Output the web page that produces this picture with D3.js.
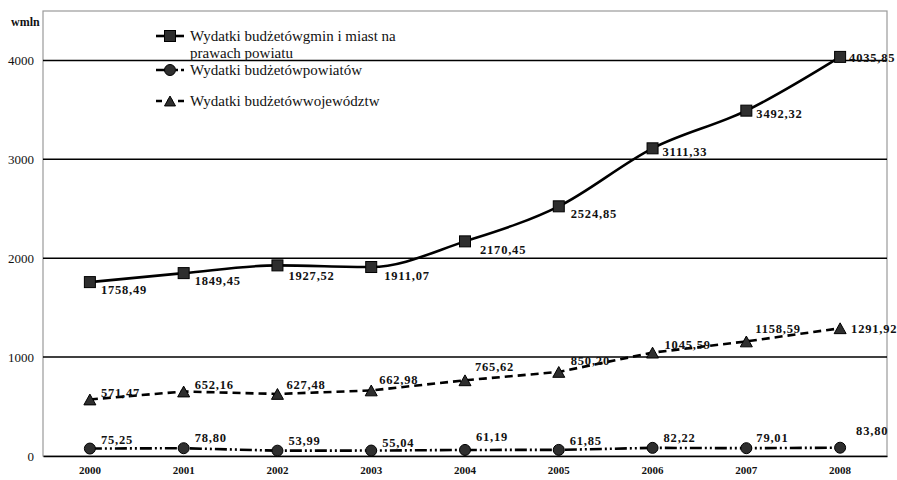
<!DOCTYPE html>
<html>
<head>
<meta charset="utf-8">
<script src="https://cdn.jsdelivr.net/npm/d3@7"></script>
<style>
  html, body { margin: 0; padding: 0; background: #fff; }
</style>
</head>
<body>
<svg id="chart" width="897" height="480"></svg>
<script>
// Years on the category axis
const years = ["2000", "2001", "2002", "2003", "2004", "2005", "2006", "2007", "2008"];

// Budget expenditures, mln zł
const gminValues = [1758.49, 1849.45, 1927.52, 1911.07, 2170.45, 2524.85, 3111.33, 3492.32, 4035.85];
const powiatowValues = [75.25, 78.80, 53.99, 55.04, 61.19, 61.85, 82.22, 79.01, 83.80];
const wojewodztwValues = [571.47, 652.16, 627.48, 662.98, 765.62, 850.20, 1045.59, 1158.59, 1291.92];

const yTicks = [0, 1000, 2000, 3000, 4000];

const seriesNames = [
  ["Wydatki budżetówgmin i miast na", "prawach powiatu"],
  ["Wydatki budżetówpowiatów"],
  ["Wydatki budżetówwojewództw"]
];

// Label offsets relative to each marker (layout only)
const gminLabelOffsets = [[11, 8], [11, 8], [11, 11], [13, 9], [15, 9], [12, 8], [10, 4], [10, 3], [9, 1]];
const wojLabelOffsets = [[11, -6], [11, -7], [9, -9], [8, -10], [10, -13], [12, -11], [12, -8], [9, -12], [11, 1]];
const powLabelOffsets = [[11, -9], [11, -10], [11, -10], [11, -8], [11, -13], [11, -9], [11, -10], [10, -10], [16, -17]];

const FONT = "'Liberation Serif', 'Tinos', 'Times New Roman', serif";

const svg = d3.select("#chart");
const margin = { left: 43, right: 10, top: 11, bottom: 24 };
const W = 897, H = 480;
const plotW = W - margin.left - margin.right;
const plotH = H - margin.top - margin.bottom;

const x = d3.scaleBand().domain(years).range([0, plotW]);
const y = d3.scaleLinear().domain([0, 4500]).range([plotH, 0]);
const cx = d => x(d) + x.bandwidth() / 2;

const g = svg.append("g").attr("transform", `translate(${margin.left},${margin.top})`);

// Plot frame
g.append("rect")
  .attr("x", 0).attr("y", 0).attr("width", plotW).attr("height", plotH)
  .attr("fill", "none").attr("stroke", "#9a9a9a").attr("stroke-width", 1.2);

// Horizontal grid lines
g.selectAll(".grid").data(yTicks.filter(t => t > 0)).join("line")
  .attr("x1", 0).attr("x2", plotW)
  .attr("y1", d => y(d)).attr("y2", d => y(d))
  .attr("stroke", "#000").attr("stroke-width", 1.5);

// Y axis labels
const yAxis = d3.axisLeft(y).tickValues(yTicks).tickSize(0).tickPadding(9).tickFormat(d3.format("d"));
const yg = g.append("g").call(yAxis);
yg.select(".domain").remove();
yg.selectAll("text").style("font-family", FONT).style("font-size", "13px").attr("fill", "#111");

// X axis
const xAxis = d3.axisBottom(x).tickSize(0).tickPadding(10);
const xg = g.append("g").attr("transform", `translate(0,${plotH})`).call(xAxis);
xg.select(".domain").attr("stroke", "#000").attr("stroke-width", 1.5);
xg.selectAll("text").style("font-family", FONT).style("font-size", "11px")
  .style("font-weight", "bold").attr("fill", "#111");

// Unit label
svg.append("text").attr("x", 11).attr("y", 26)
  .style("font-family", FONT).style("font-size", "12px").style("font-weight", "bold")
  .attr("fill", "#111")
  .text("wmln");

const markerFill = "#2e2e2e";
const fmt = v => d3.format(".2f")(v).replace(".", ",");

function drawMarker(sel, type, size) {
  if (type === "square") {
    sel.append("rect").attr("x", -size / 2).attr("y", -size / 2).attr("width", size).attr("height", size)
      .attr("fill", markerFill).attr("stroke", "#000").attr("stroke-width", 1);
  } else if (type === "circle") {
    sel.append("circle").attr("r", size / 2)
      .attr("fill", markerFill).attr("stroke", "#000").attr("stroke-width", 1);
  } else {
    const h = size * 0.9;
    sel.append("path").attr("d", `M0,${-h / 2}L${size / 2},${h / 2}L${-size / 2},${h / 2}Z`)
      .attr("fill", markerFill).attr("stroke", "#000").attr("stroke-width", 1);
  }
}

const series = [
  { values: gminValues, curve: d3.curveMonotoneX, dash: null, marker: "square", size: 11, offsets: gminLabelOffsets },
  { values: powiatowValues, curve: d3.curveLinear, dash: "12,3,2,3,2,3", marker: "circle", size: 11, offsets: powLabelOffsets },
  { values: wojewodztwValues, curve: d3.curveLinear, dash: "8,5", marker: "triangle", size: 12, offsets: wojLabelOffsets }
];

series.forEach(s => {
  const pts = years.map((yr, i) => [cx(yr), y(s.values[i])]);
  g.append("path")
    .attr("d", d3.line().curve(s.curve)(pts))
    .attr("fill", "none").attr("stroke", "#000").attr("stroke-width", 2.6)
    .attr("stroke-dasharray", s.dash);
  years.forEach((yr, i) => {
    const m = g.append("g").attr("transform", `translate(${cx(yr)},${y(s.values[i])})`);
    drawMarker(m, s.marker, s.size);
  });
  years.forEach((yr, i) => {
    const [dx, dy] = s.offsets[i];
    g.append("text")
      .attr("x", cx(yr) + dx).attr("y", y(s.values[i]) + dy + 4)
      .style("font-family", FONT).style("font-size", "12.5px").style("font-weight", "bold")
      .style("letter-spacing", "0.8px")
      .attr("fill", "#111")
      .text(fmt(s.values[i]));
  });
});

// Legend
const legendRows = [
  { y: 36, dash: null, marker: "square", size: 11 },
  { y: 70, dash: "12,3,2,3,2,3", marker: "circle", size: 11 },
  { y: 101, dash: "6,5", marker: "triangle", size: 11 }
];
legendRows.forEach((r, i) => {
  const lg = svg.append("g");
  lg.append("line").attr("x1", 156).attr("x2", 184).attr("y1", r.y).attr("y2", r.y)
    .attr("stroke", "#000").attr("stroke-width", 2.6).attr("stroke-dasharray", r.dash);
  const m = lg.append("g").attr("transform", `translate(170,${r.y})`);
  drawMarker(m, r.marker, r.size);
  seriesNames[i].forEach((line, j) => {
    lg.append("text").attr("x", 190).attr("y", r.y + 5 + j * 17)
      .style("font-family", FONT).style("font-size", "15px")
      .attr("fill", "#111")
      .text(line);
  });
});
</script>
</body>
</html>
